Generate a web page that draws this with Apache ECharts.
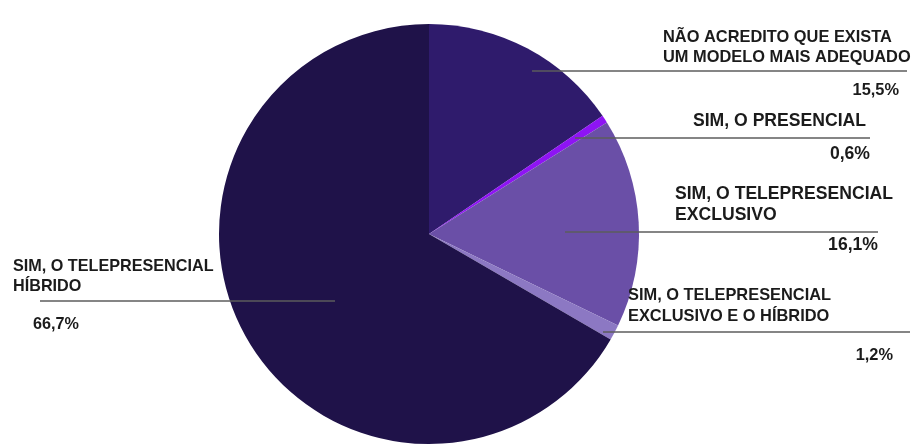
<!DOCTYPE html>
<html>
<head>
<meta charset="utf-8">
<script src="https://cdn.jsdelivr.net/npm/echarts@6/dist/echarts.min.js"></script>
<style>
  html, body { margin: 0; padding: 0; background: #ffffff; }
  #chart { width: 912px; height: 448px; }
</style>
</head>
<body>
<div id="chart"></div>
<script>
// Survey answers, in clockwise order starting at 12 o'clock
const answerLines = [
  ['NÃO ACREDITO QUE EXISTA', 'UM MODELO MAIS ADEQUADO'],
  ['SIM, O PRESENCIAL'],
  ['SIM, O TELEPRESENCIAL', 'EXCLUSIVO'],
  ['SIM, O TELEPRESENCIAL', 'EXCLUSIVO E O HÍBRIDO'],
  ['SIM, O TELEPRESENCIAL', 'HÍBRIDO']
];
const shares = [15.5, 0.6, 16.1, 1.2, 66.7];
const sliceColors = ['#2f1b6c', '#8e14f4', '#6a4fa7', '#8c78c3', '#1f1249'];

// Callout placement: leader anchor inside the slice, leader end, text block
const callouts = [
  { ax: 532, ay: 71,  ex: 907, left: 663, top: 27,  width: 236, size: 16.4, lh: 20, pctLh: 46, pctAlign: 'right', pctPad: 0 },
  { ax: 575, ay: 138, ex: 870, left: 693, top: 111, width: 177, size: 17.6, lh: 21, pctLh: 44, pctAlign: 'right', pctPad: 0 },
  { ax: 565, ay: 232, ex: 878, left: 675, top: 184, width: 203, size: 17.6, lh: 21, pctLh: 39, pctAlign: 'right', pctPad: 0 },
  { ax: 603, ay: 332, ex: 910, left: 628, top: 285, width: 265, size: 16.4, lh: 21, pctLh: 57, pctAlign: 'right', pctPad: 0 },
  { ax: 335, ay: 301, ex: 40,  left: 13,  top: 257, width: 230, size: 16.2, lh: 20, pctLh: 55, pctAlign: 'left',  pctPad: 20 }
];

const fontFamily = '"Liberation Sans", Arial, Helvetica, sans-serif';
const formatShare = v => v.toFixed(1).replace('.', ',') + '%';
const pieCenter = [429, 234];
const pieRadius = 210;

// Coloured slices
const sliceData = shares.map((v, i) => ({
  name: answerLines[i].join(' '),
  value: v,
  itemStyle: { color: sliceColors[i] }
}));

// Same slices, transparent, carrying the callouts on top of the pie
const calloutData = shares.map((v, i) => {
  const c = callouts[i];
  return {
    name: answerLines[i].join(' '),
    value: v,
    itemStyle: { color: 'rgba(0,0,0,0)' },
    label: {
      width: c.width,
      overflow: 'none',
      formatter: answerLines[i].map(t => '{n|' + t + '}').join('\n') + '\n{p|' + formatShare(v) + '}',
      rich: {
        n: { fontSize: c.size, fontWeight: 'bold', color: '#1b1b1b', lineHeight: c.lh, fontFamily: fontFamily, align: 'left' },
        p: { fontSize: c.size, fontWeight: 'bold', color: '#1b1b1b', lineHeight: c.pctLh, fontFamily: fontFamily,
             align: c.pctAlign, padding: [0, 0, 0, c.pctPad] }
      }
    }
  };
});

const chart = echarts.init(document.getElementById('chart'), null, { renderer: 'canvas' });
chart.setOption({
  animation: false,
  backgroundColor: '#ffffff',
  series: [{
    type: 'pie',
    z: 2,
    center: pieCenter,
    radius: pieRadius,
    startAngle: 90,
    clockwise: true,
    silent: true,
    itemStyle: { borderWidth: 0 },
    label: { show: false },
    labelLine: { show: false },
    data: sliceData
  }, {
    type: 'pie',
    z: 3,
    center: pieCenter,
    radius: pieRadius,
    startAngle: 90,
    clockwise: true,
    avoidLabelOverlap: false,
    silent: true,
    itemStyle: { borderWidth: 0 },
    label: { show: true, position: 'outside', fontFamily: fontFamily, overflow: 'none' },
    labelLine: { show: true, length: 10, length2: 10, smooth: false,
                 lineStyle: { color: '#5c5c5c', width: 1.5 } },
    labelLayout: function (params) {
      const c = callouts[params.dataIndex];
      return {
        x: c.left,
        y: c.top,
        align: 'left',
        verticalAlign: 'top',
        labelLinePoints: [[c.ax, c.ay], [(c.ax + c.ex) / 2, c.ay], [c.ex, c.ay]]
      };
    },
    data: calloutData
  }]
});
</script>
</body>
</html>
